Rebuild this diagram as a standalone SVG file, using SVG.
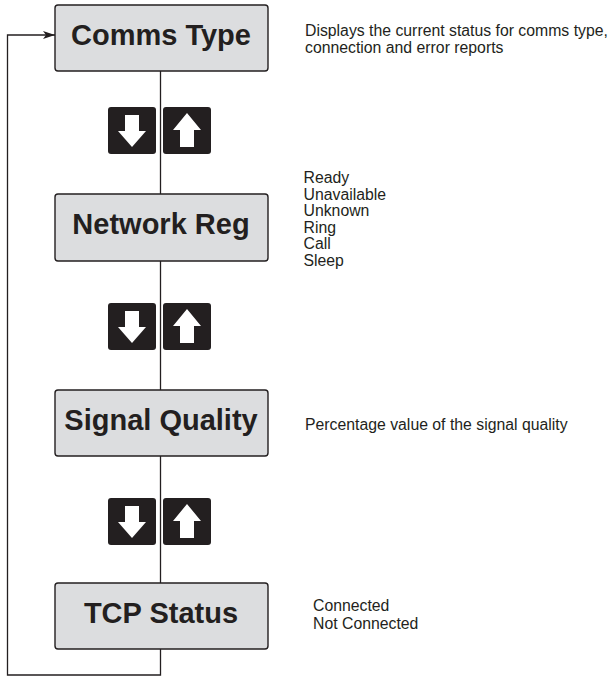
<svg xmlns="http://www.w3.org/2000/svg" width="612" height="676" viewBox="0 0 612 676">
<style>
.box{fill:#dcdddf;stroke:#231f20;stroke-width:1.4}
.lbl{font-family:"Liberation Sans",Arial,sans-serif;font-weight:bold;font-size:29px;fill:#231f20;text-anchor:middle}
.desc{font-family:"Liberation Sans",Arial,sans-serif;font-size:15.8px;fill:#231f20}
.btn{fill:#231f20}
.arw{fill:#ffffff}
.ln{fill:none;stroke:#231f20;stroke-width:1.3}
</style>
<defs>
<marker id="ah" markerWidth="12" markerHeight="8" refX="12" refY="4" orient="auto" markerUnits="userSpaceOnUse">
<path d="M0,0 L12,4 L0,8 L3,4 Z" fill="#231f20"/>
</marker>
<g id="btnpair">
<rect class="btn" x="108" y="0" width="48" height="47" rx="3"/>
<path class="arw" d="M125,8 H139 V24 H146 L132,40 L118,24 H125 Z"/>
<rect class="btn" x="163" y="0" width="48" height="47" rx="3"/>
<path class="arw" d="M187,6 L201,23 H194 V40 H180 V23 H173 Z"/>
</g>
</defs>
<g id="connectors">
<line class="ln" x1="160.5" y1="71" x2="160.5" y2="194"/>
<line class="ln" x1="160.5" y1="261" x2="160.5" y2="390"/>
<line class="ln" x1="160.5" y1="456" x2="160.5" y2="583"/>
<path class="ln" d="M160.5,649 V675 H7.5 V35 H55" marker-end="url(#ah)"/>
</g>
<g id="buttons1"><use href="#btnpair" y="107"/></g>
<g id="buttons2"><use href="#btnpair" y="303"/></g>
<g id="buttons3"><use href="#btnpair" y="498"/></g>
<g id="comms-type">
<rect class="box" x="55" y="5" width="213" height="66" rx="3"/>
<text class="lbl" x="161" y="45">Comms Type</text>
</g>
<g id="network-reg">
<rect class="box" x="55" y="194" width="213" height="67" rx="3"/>
<text class="lbl" x="161" y="234">Network Reg</text>
</g>
<g id="signal-quality">
<rect class="box" x="55" y="390" width="213" height="66" rx="3"/>
<text class="lbl" x="161" y="430">Signal Quality</text>
</g>
<g id="tcp-status">
<rect class="box" x="55" y="583" width="213" height="66" rx="3"/>
<text class="lbl" x="161" y="623">TCP Status</text>
</g>
<g id="notes">
<text class="desc" x="305" y="36">Displays the current status for comms type,</text>
<text class="desc" x="305" y="53">connection and error reports</text>
<text class="desc" x="303.5" y="183">Ready</text>
<text class="desc" x="303.5" y="199.5">Unavailable</text>
<text class="desc" x="303.5" y="216">Unknown</text>
<text class="desc" x="303.5" y="232.5">Ring</text>
<text class="desc" x="303.5" y="249">Call</text>
<text class="desc" x="303.5" y="265.5">Sleep</text>
<text class="desc" x="305" y="430">Percentage value of the signal quality</text>
<text class="desc" x="313" y="611">Connected</text>
<text class="desc" x="313" y="629">Not Connected</text>
</g>
</svg>
